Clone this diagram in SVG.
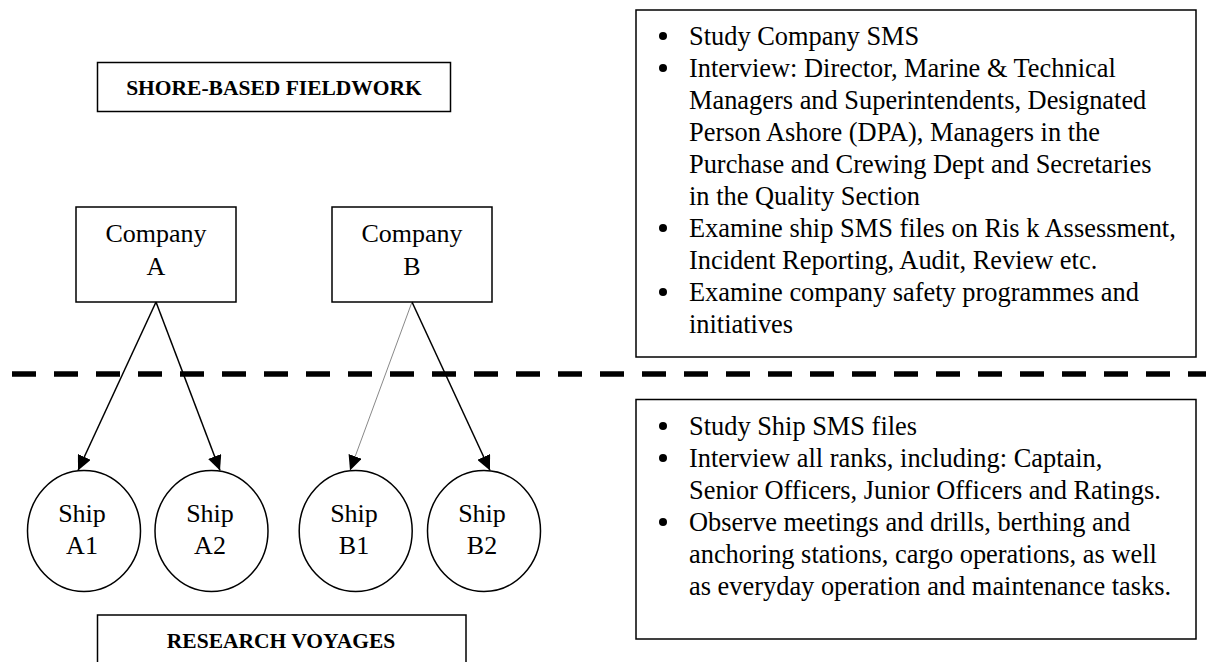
<svg xmlns="http://www.w3.org/2000/svg" width="1206" height="662" viewBox="0 0 1206 662">
  <style>
    .box { fill: #fff; stroke: #000; stroke-width: 1.5; }
    .ship { fill: #fff; stroke: #000; stroke-width: 1.5; }
    .label { font-family: "Liberation Serif", "Times New Roman", serif; font-size: 26px; fill: #000; }
    .note { font-family: "Liberation Serif", "Times New Roman", serif; font-size: 26.4px; fill: #000; }
    .mid { text-anchor: middle; }
    .head { font-family: "Liberation Serif", "Times New Roman", serif; font-size: 21.5px; font-weight: bold; fill: #000; text-anchor: middle; }
    .edge { stroke: #000; stroke-width: 1.5; fill: none; }
    .edge.thin { stroke: #555; stroke-width: 0.7; }
    .divider { stroke: #000; stroke-width: 5.5; stroke-dasharray: 24 18; fill: none; }
    .dot { fill: #000; }
  </style>
  <defs>
    <marker id="arrow" markerUnits="userSpaceOnUse" markerWidth="16" markerHeight="14" refX="15" refY="7" orient="auto">
      <path d="M0,0 L15,7 L0,14 Z" fill="#000"/>
    </marker>
  </defs>

  <rect width="1206" height="662" fill="#fff"/>

  <!-- section divider between shore and ship fieldwork -->
  <g id="divider">
    <line class="divider" x1="12" y1="374" x2="1206" y2="374"/>
  </g>

  <g id="shore-label">
    <rect class="box" x="97.5" y="62.5" width="353" height="49"/>
    <text class="head" x="274" y="95">SHORE-BASED FIELDWORK</text>
  </g>

  <g id="research-label">
    <rect class="box" x="97.5" y="615" width="368.5" height="80"/>
    <text class="head" x="281" y="648">RESEARCH VOYAGES</text>
  </g>

  <g id="company-a">
    <rect class="box" x="76" y="207" width="160" height="95"/>
    <text class="label mid" x="156" y="242">Company</text>
    <text class="label mid" x="156" y="275">A</text>
  </g>

  <g id="company-b">
    <rect class="box" x="332" y="207" width="160" height="95"/>
    <text class="label mid" x="412" y="242">Company</text>
    <text class="label mid" x="412" y="275">B</text>
  </g>

  <g id="ship-a1">
    <ellipse class="ship" cx="84" cy="531" rx="56.5" ry="60.5"/>
    <text class="label mid" x="82" y="522">Ship</text>
    <text class="label mid" x="82" y="554">A1</text>
  </g>

  <g id="ship-a2">
    <ellipse class="ship" cx="211.5" cy="531" rx="56.5" ry="60.5"/>
    <text class="label mid" x="210" y="522">Ship</text>
    <text class="label mid" x="210" y="554">A2</text>
  </g>

  <g id="ship-b1">
    <ellipse class="ship" cx="355.7" cy="531" rx="56.5" ry="60.5"/>
    <text class="label mid" x="354" y="522">Ship</text>
    <text class="label mid" x="354" y="554">B1</text>
  </g>

  <g id="ship-b2">
    <ellipse class="ship" cx="484" cy="531" rx="56.5" ry="60.5"/>
    <text class="label mid" x="482" y="522">Ship</text>
    <text class="label mid" x="482" y="554">B2</text>
  </g>

  <g id="connectors">
    <line class="edge" x1="156" y1="302" x2="78" y2="470.5" marker-end="url(#arrow)"/>
    <line class="edge" x1="156" y1="302" x2="220" y2="470.5" marker-end="url(#arrow)"/>
    <line class="edge thin" x1="412" y1="302" x2="350" y2="470.5" marker-end="url(#arrow)"/>
    <line class="edge" x1="412" y1="302" x2="490" y2="470.5" marker-end="url(#arrow)"/>
  </g>

  <!-- shore-based activities -->
  <g id="shore-notes">
    <rect class="box" x="636" y="10" width="560" height="347"/>
    <circle class="dot" cx="663" cy="36" r="4"/>
    <circle class="dot" cx="663" cy="68" r="4"/>
    <circle class="dot" cx="663" cy="228" r="4"/>
    <circle class="dot" cx="663" cy="292" r="4"/>
    <text class="note" x="689" y="45">Study Company SMS</text>
    <text class="note" x="689" y="77">Interview: Director, Marine &amp; Technical</text>
    <text class="note" x="689" y="109">Managers and Superintendents, Designated</text>
    <text class="note" x="689" y="141">Person Ashore (DPA), Managers in the</text>
    <text class="note" x="689" y="173">Purchase and Crewing Dept and Secretaries</text>
    <text class="note" x="689" y="205">in the Quality Section</text>
    <text class="note" x="689" y="237">Examine ship SMS files on Ris k Assessment,</text>
    <text class="note" x="689" y="269">Incident Reporting, Audit, Review etc.</text>
    <text class="note" x="689" y="301">Examine company safety programmes and</text>
    <text class="note" x="689" y="333">initiatives</text>
  </g>

  <!-- shipboard activities -->
  <g id="ship-notes">
    <rect class="box" x="636" y="399.5" width="560" height="239.5"/>
    <circle class="dot" cx="663" cy="426" r="4"/>
    <circle class="dot" cx="663" cy="458" r="4"/>
    <circle class="dot" cx="663" cy="522" r="4"/>
    <text class="note" x="689" y="435">Study Ship SMS files</text>
    <text class="note" x="689" y="467">Interview all ranks, including: Captain,</text>
    <text class="note" x="689" y="499">Senior Officers, Junior Officers and Ratings.</text>
    <text class="note" x="689" y="531">Observe meetings and drills, berthing and</text>
    <text class="note" x="689" y="563">anchoring stations, cargo operations, as well</text>
    <text class="note" x="689" y="595">as everyday operation and maintenance tasks.</text>
  </g>
</svg>
